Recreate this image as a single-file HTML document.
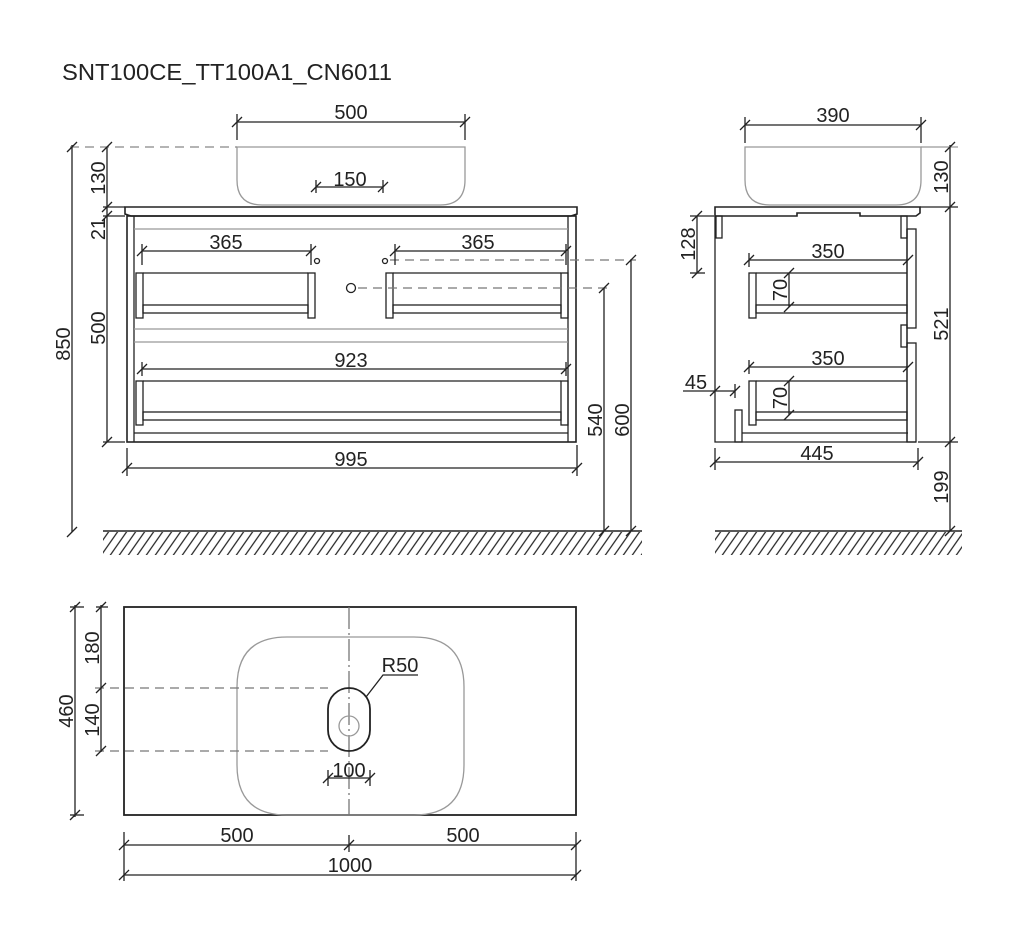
<!DOCTYPE html>
<html><head><meta charset="utf-8"><style>
html,body{margin:0;padding:0;background:#fff;width:1024px;height:932px;overflow:hidden}
svg{display:block}
text{font-family:"Liberation Sans",sans-serif;font-size:20px;fill:#222}
</style></head><body>
<svg width="1024" height="932" viewBox="0 0 1024 932" xmlns="http://www.w3.org/2000/svg">
<defs>
<pattern id="h" width="9" height="24" patternUnits="userSpaceOnUse" patternTransform="skewX(-35)">
<line x1="4" y1="0" x2="4" y2="24" stroke="#222" stroke-width="1.5"/>
</pattern>
</defs>
<text x="62" y="80" style="font-size:23px" textLength="330" lengthAdjust="spacingAndGlyphs">SNT100CE_TT100A1_CN6011</text>

<g stroke="#222" stroke-width="1.3" fill="none">
<!-- ===== FRONT VIEW ===== -->
<!-- basin -->
<path d="M237 147 L465 147 L465 180 Q465 205 440 205 L262 205 Q237 205 237 180 Z" stroke="#999"/>
<line x1="70" y1="147" x2="237" y2="147" stroke="#888" stroke-dasharray="9 6"/>
<!-- countertop -->
<path d="M125 207 L577 207 L577 214 L571 216 L131 216 L125 214 Z" stroke-width="1.6"/>
<!-- cabinet -->
<rect x="127" y="216" width="449" height="226" stroke-width="1.6"/>
<line x1="134" y1="216" x2="134" y2="442"/>
<line x1="568" y1="216" x2="568" y2="442"/>
<line x1="134" y1="229" x2="568" y2="229" stroke="#999"/>
<line x1="134" y1="329" x2="568" y2="329" stroke="#999"/>
<line x1="134" y1="342" x2="568" y2="342" stroke="#999"/>
<line x1="134" y1="433" x2="568" y2="433"/>
<!-- left handle -->
<rect x="136" y="273" width="7" height="45"/><rect x="308" y="273" width="7" height="45"/>
<line x1="143" y1="273" x2="308" y2="273"/><rect x="143" y="305" width="165" height="8"/>
<!-- right handle -->
<rect x="386" y="273" width="7" height="45"/><rect x="561" y="273" width="7" height="45"/>
<line x1="393" y1="273" x2="561" y2="273"/><rect x="393" y="305" width="168" height="8"/>
<!-- lower handle -->
<rect x="136" y="381" width="7" height="44"/><rect x="561" y="381" width="7" height="44"/>
<line x1="143" y1="381" x2="561" y2="381"/><rect x="143" y="412" width="418" height="8"/>
<circle cx="317" cy="261" r="2.5"/><circle cx="385" cy="261" r="2.5"/><circle cx="351" cy="288" r="4.5"/>
<line x1="390" y1="260" x2="636" y2="260" stroke="#777" stroke-dasharray="9 6"/>
<line x1="358" y1="288" x2="612" y2="288" stroke="#777" stroke-dasharray="9 6"/>
<!-- dims front -->
<line x1="237" y1="122" x2="465" y2="122"/><line x1="237" y1="114" x2="237" y2="140"/><line x1="465" y1="114" x2="465" y2="140"/>
<line x1="316" y1="187" x2="383" y2="187"/><line x1="316" y1="180" x2="316" y2="193"/><line x1="383" y1="180" x2="383" y2="193"/>
<line x1="142" y1="251" x2="311" y2="251"/><line x1="142" y1="244" x2="142" y2="265"/><line x1="311" y1="244" x2="311" y2="265"/>
<line x1="395" y1="251" x2="566" y2="251"/><line x1="395" y1="244" x2="395" y2="265"/><line x1="566" y1="244" x2="566" y2="265"/>
<line x1="142" y1="369" x2="566" y2="369"/><line x1="142" y1="362" x2="142" y2="376"/><line x1="566" y1="362" x2="566" y2="376"/>
<line x1="127" y1="468" x2="577" y2="468"/><line x1="127" y1="448" x2="127" y2="476"/><line x1="577" y1="445" x2="577" y2="476"/>
<line x1="72" y1="145" x2="72" y2="532"/>
<line x1="107" y1="147" x2="107" y2="442"/>
<line x1="103" y1="207" x2="125" y2="207"/><line x1="103" y1="216" x2="125" y2="216"/><line x1="103" y1="442" x2="125" y2="442"/>
<line x1="604" y1="288" x2="604" y2="531"/><line x1="631" y1="260" x2="631" y2="531"/>
<line x1="103" y1="531" x2="642" y2="531" stroke-width="1.6"/>
<!-- ticks -->
<path d="M232 127 L242 117 M460 127 L470 117 M311 192 L321 182 M378 192 L388 182 M137 256 L147 246 M306 256 L316 246 M390 256 L400 246 M561 256 L571 246 M137 374 L147 364 M561 374 L571 364 M122 473 L132 463 M572 473 L582 463 M67 152 L77 142 M67 537 L77 527 M102 152 L112 142 M102 212 L112 202 M102 221 L112 211 M102 447 L112 437 M599 293 L609 283 M599 536 L609 526 M626 265 L636 255 M626 536 L636 526"/>

<!-- ===== SIDE VIEW ===== -->
<path d="M745 147 L921 147 L921 180 Q921 205 896 205 L770 205 Q745 205 745 180 Z" stroke="#999"/>
<path d="M715 207 L920 207 L920 213 L916 216 L860 216 L860 213 L797 213 L797 216 L715 216 Z" stroke-width="1.6"/>
<path d="M715 216 L715 442 L742 442 M742 433 L908 433"/>
<rect x="735" y="410" width="7" height="32"/>
<line x1="742" y1="442" x2="916" y2="442"/>
<rect x="716" y="216" width="6" height="22"/>
<rect x="901" y="216" width="6" height="22"/>
<rect x="907" y="229" width="9" height="99"/>
<rect x="901" y="325" width="6" height="22"/>
<rect x="907" y="343" width="9" height="99"/>
<line x1="907" y1="229" x2="907" y2="442"/>
<rect x="749" y="273" width="7" height="45"/><line x1="756" y1="273" x2="907" y2="273"/><rect x="756" y="305" width="151" height="8"/>
<rect x="749" y="381" width="7" height="44"/><line x1="756" y1="381" x2="907" y2="381"/><rect x="756" y="412" width="151" height="8"/>
<!-- side dims -->
<line x1="745" y1="125" x2="921" y2="125"/><line x1="745" y1="117" x2="745" y2="143"/><line x1="921" y1="117" x2="921" y2="143"/>
<line x1="749" y1="260" x2="908" y2="260"/><line x1="749" y1="253" x2="749" y2="267"/>
<line x1="749" y1="367" x2="908" y2="367"/><line x1="749" y1="360" x2="749" y2="374"/>
<line x1="789" y1="273" x2="789" y2="307"/><line x1="789" y1="381" x2="789" y2="415"/>
<line x1="697" y1="216" x2="697" y2="273"/><line x1="690" y1="216" x2="714" y2="216"/><line x1="690" y1="273" x2="705" y2="273"/>
<line x1="683" y1="391" x2="735" y2="391"/><line x1="735" y1="384" x2="735" y2="398"/>
<line x1="715" y1="462" x2="918" y2="462"/><line x1="715" y1="448" x2="715" y2="470"/><line x1="918" y1="448" x2="918" y2="470"/>
<line x1="950" y1="145" x2="950" y2="531"/>
<line x1="921" y1="147" x2="958" y2="147" stroke="#999"/>
<line x1="920" y1="207" x2="958" y2="207"/><line x1="918" y1="442" x2="958" y2="442"/>
<line x1="715" y1="531" x2="962" y2="531" stroke-width="1.6"/>
<path d="M740 130 L750 120 M916 130 L926 120 M744 265 L754 255 M903 265 L913 255 M744 372 L754 362 M903 372 L913 362 M784 278 L794 268 M784 312 L794 302 M784 386 L794 376 M784 420 L794 410 M692 221 L702 211 M692 278 L702 268 M710 396 L720 386 M730 396 L740 386 M710 467 L720 457 M913 467 L923 457 M945 152 L955 142 M945 212 L955 202 M945 447 L955 437 M945 536 L955 526"/>

<!-- ===== TOP VIEW ===== -->
<rect x="124" y="607" width="452" height="208" stroke-width="1.8"/>
<path d="M287 637 L414 637 Q464 637 464 687 L464 765 Q464 815 414 815 L287 815 Q237 815 237 765 L237 687 Q237 637 287 637 Z" stroke="#999"/>
<line x1="349" y1="607" x2="349" y2="815" stroke="#777" stroke-dasharray="22 4 2 4"/>
<rect x="328" y="688" width="42" height="63" rx="21" ry="21" stroke-width="1.8"/>
<circle cx="349" cy="726" r="10" stroke="#999"/>
<line x1="95" y1="688" x2="328" y2="688" stroke="#777" stroke-dasharray="9 6"/>
<line x1="95" y1="751" x2="328" y2="751" stroke="#777" stroke-dasharray="9 6"/>
<path d="M366 697 L383 675 L418 675"/>
<line x1="75" y1="605" x2="75" y2="817"/><line x1="70" y1="607" x2="84" y2="607"/><line x1="70" y1="815" x2="84" y2="815"/>
<line x1="101" y1="605" x2="101" y2="752"/><line x1="96" y1="607" x2="108" y2="607"/>
<line x1="328" y1="778" x2="370" y2="778"/><line x1="328" y1="770" x2="328" y2="786"/><line x1="370" y1="770" x2="370" y2="786"/>
<line x1="124" y1="845" x2="576" y2="845"/><line x1="124" y1="832" x2="124" y2="881"/><line x1="576" y1="832" x2="576" y2="881"/><line x1="349" y1="835" x2="349" y2="852"/>
<line x1="124" y1="875" x2="576" y2="875"/>
<path d="M70 612 L80 602 M70 820 L80 810 M96 612 L106 602 M96 693 L106 683 M96 756 L106 746 M323 783 L333 773 M365 783 L375 773 M119 850 L129 840 M344 850 L354 840 M571 850 L581 840 M119 880 L129 870 M571 880 L581 870"/>
</g>
<rect x="103" y="532" width="539" height="23" fill="url(#h)"/>
<rect x="715" y="532" width="247" height="23" fill="url(#h)"/>

<!-- labels -->
<text x="351" y="119" text-anchor="middle">500</text>
<text x="350" y="186" text-anchor="middle">150</text>
<text x="226" y="249" text-anchor="middle">365</text>
<text x="478" y="249" text-anchor="middle">365</text>
<text x="351" y="367" text-anchor="middle">923</text>
<text x="351" y="466" text-anchor="middle">995</text>
<text transform="translate(70,344) rotate(-90)" text-anchor="middle">850</text>
<text transform="translate(105,178) rotate(-90)" text-anchor="middle">130</text>
<text transform="translate(105,229) rotate(-90)" text-anchor="middle">21</text>
<text transform="translate(105,328) rotate(-90)" text-anchor="middle">500</text>
<text transform="translate(602,420) rotate(-90)" text-anchor="middle">540</text>
<text transform="translate(629,420) rotate(-90)" text-anchor="middle">600</text>
<text x="833" y="122" text-anchor="middle">390</text>
<text x="828" y="258" text-anchor="middle">350</text>
<text x="828" y="365" text-anchor="middle">350</text>
<text transform="translate(787,290) rotate(-90)" text-anchor="middle">70</text>
<text transform="translate(787,398) rotate(-90)" text-anchor="middle">70</text>
<text transform="translate(695,244) rotate(-90)" text-anchor="middle">128</text>
<text x="696" y="389" text-anchor="middle">45</text>
<text x="817" y="460" text-anchor="middle">445</text>
<text transform="translate(948,177) rotate(-90)" text-anchor="middle">130</text>
<text transform="translate(948,324) rotate(-90)" text-anchor="middle">521</text>
<text transform="translate(948,487) rotate(-90)" text-anchor="middle">199</text>
<text x="400" y="672" text-anchor="middle">R50</text>
<text x="349" y="777" text-anchor="middle">100</text>
<text x="237" y="842" text-anchor="middle">500</text>
<text x="463" y="842" text-anchor="middle">500</text>
<text x="350" y="872" text-anchor="middle">1000</text>
<text transform="translate(73,711) rotate(-90)" text-anchor="middle">460</text>
<text transform="translate(99,648) rotate(-90)" text-anchor="middle">180</text>
<text transform="translate(99,720) rotate(-90)" text-anchor="middle">140</text>
</svg>
</body></html>
